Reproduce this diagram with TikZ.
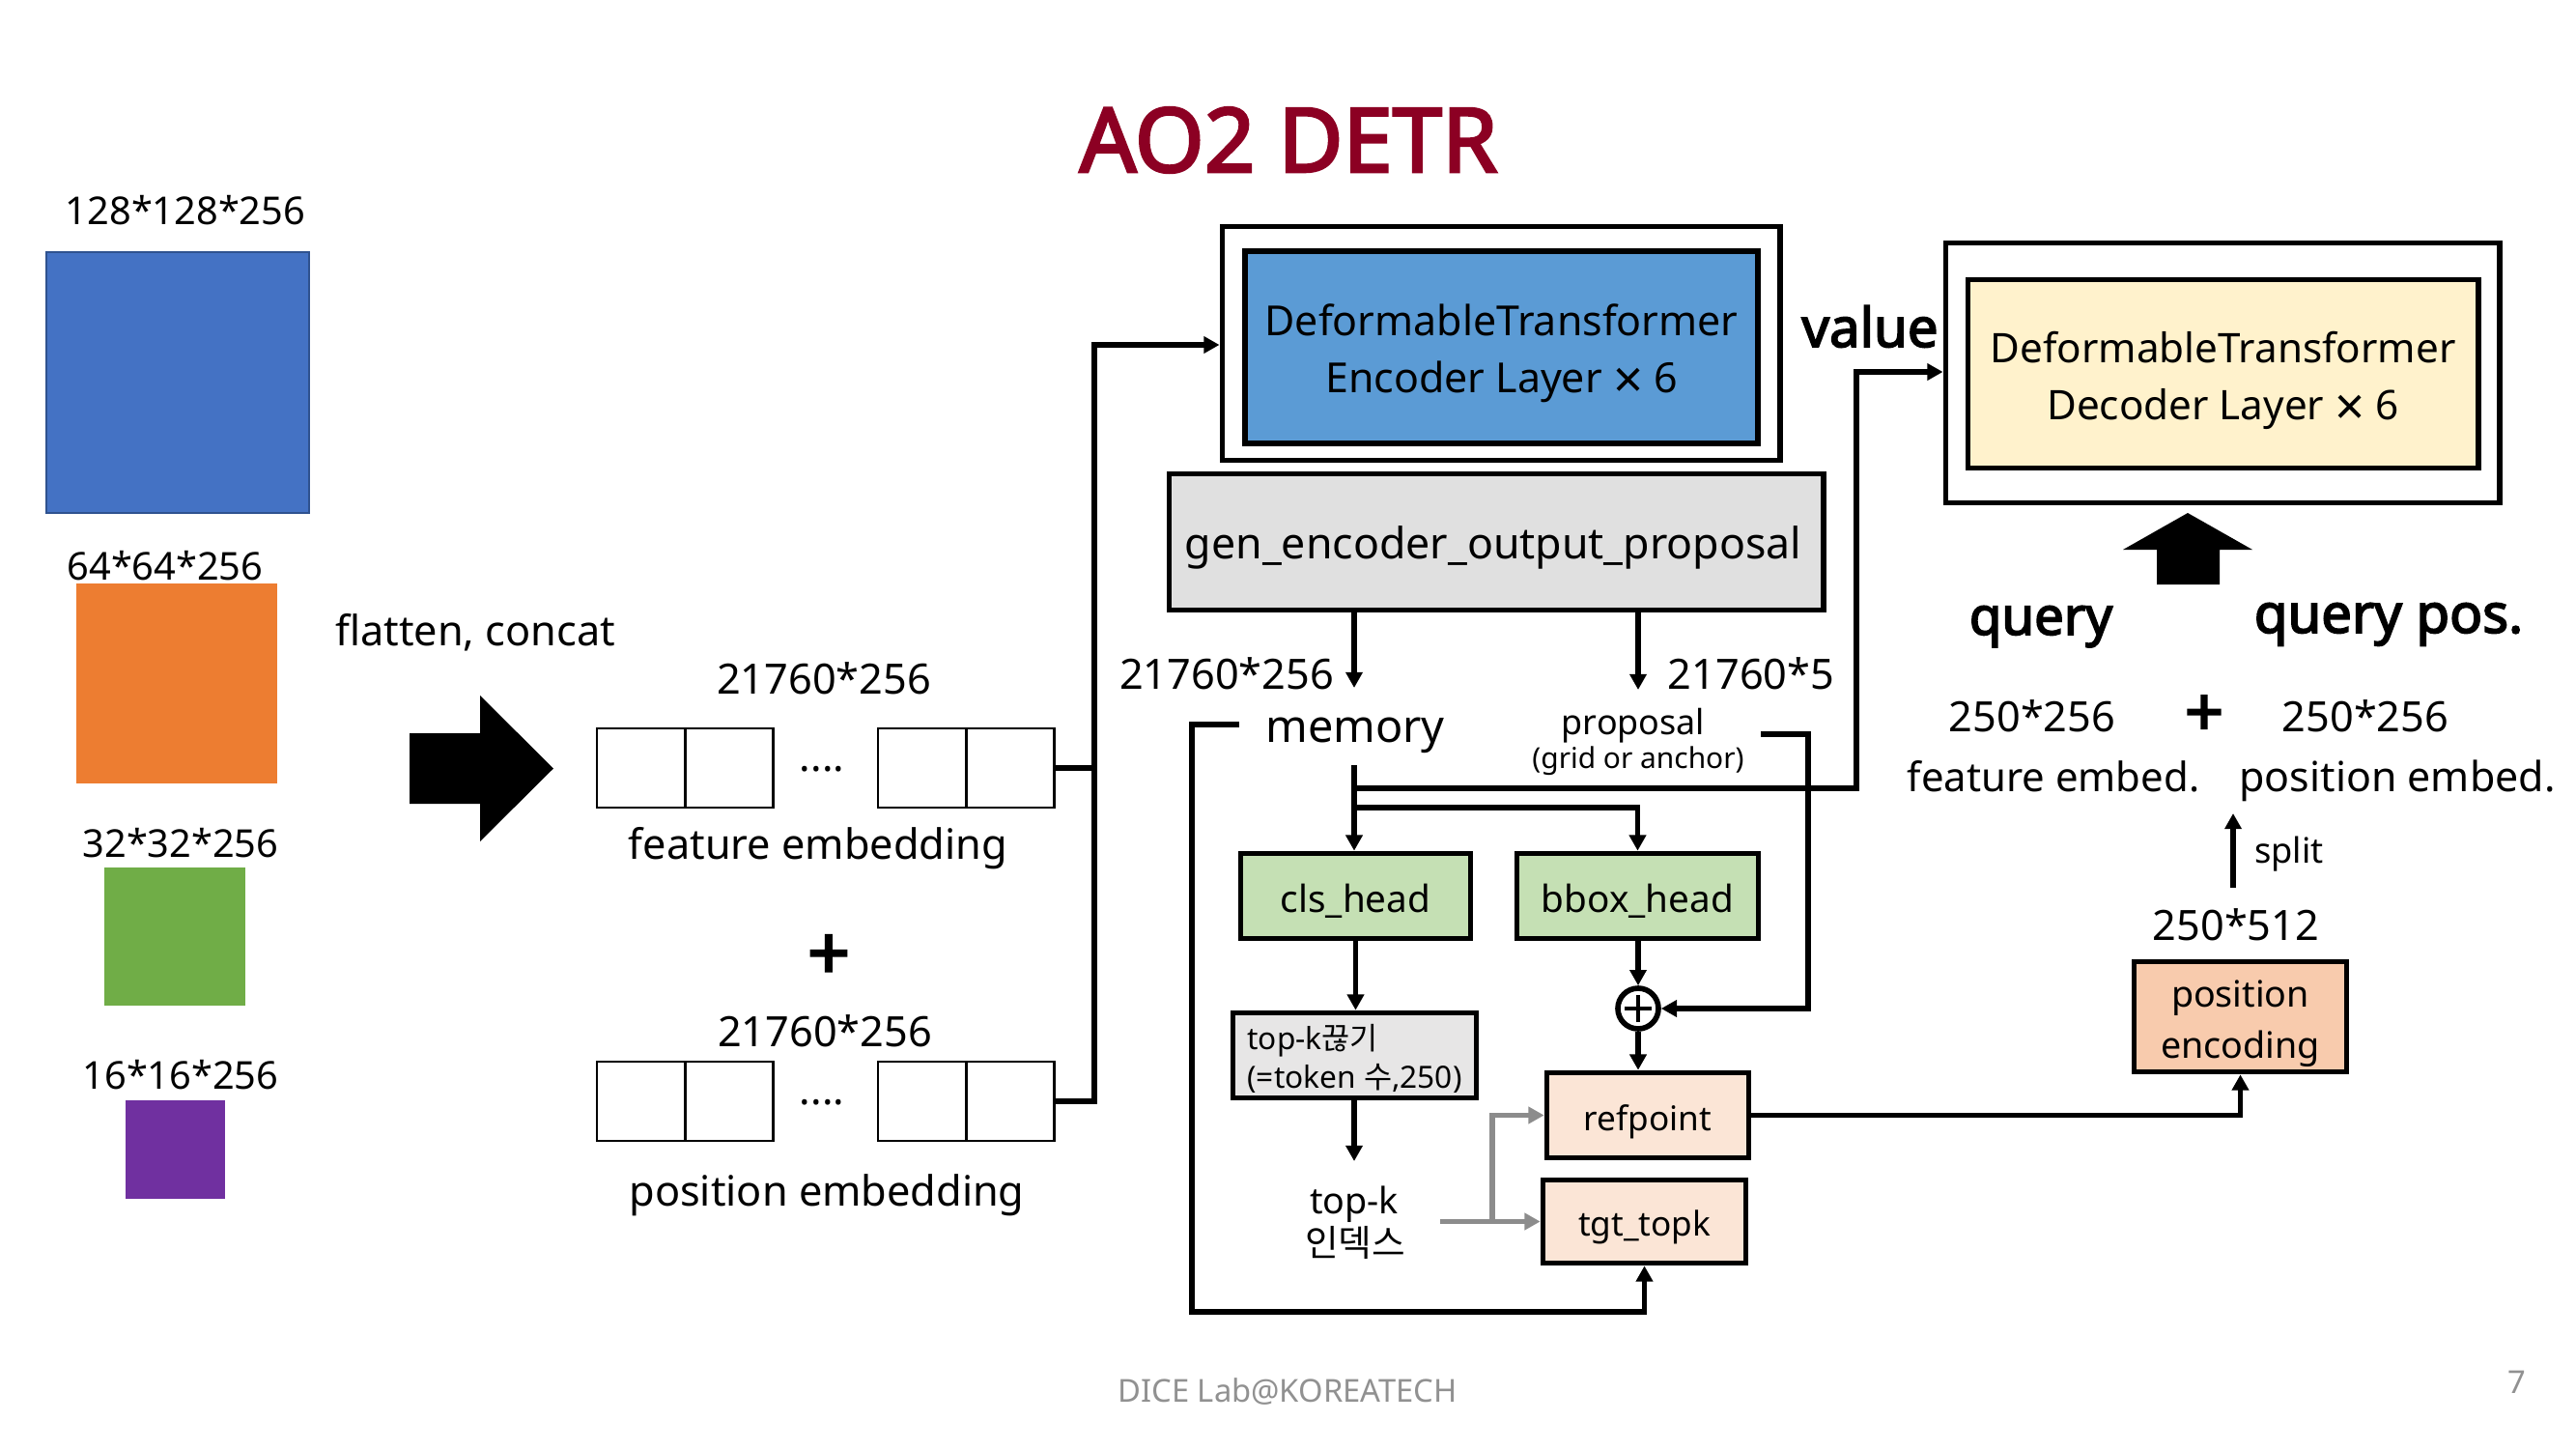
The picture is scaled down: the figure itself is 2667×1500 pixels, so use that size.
\documentclass[tikz,border=0pt]{standalone}
\usepackage{fontspec}
\setmainfont{Noto Sans}
\newfontfamily\bsans[FakeBold=3]{Noto Sans}
\newfontfamily\kr{Noto Sans CJK KR}
\usetikzlibrary{arrows.meta}

\definecolor{titlered}{RGB}{140,0,35}
\definecolor{blueA}{HTML}{4472C4}
\definecolor{blueAb}{HTML}{2F528F}
\definecolor{orangeA}{HTML}{ED7D31}
\definecolor{greenA}{HTML}{70AD47}
\definecolor{purpleA}{HTML}{7030A0}
\definecolor{encblue}{HTML}{5B9BD5}
\definecolor{genGray}{HTML}{E0E0E0}
\definecolor{headGreen}{HTML}{C5E0B4}
\definecolor{topkGray}{HTML}{E7E6E6}
\definecolor{peach}{HTML}{FBE5D6}
\definecolor{peachDark}{HTML}{F8CBAD}
\definecolor{decYellow}{HTML}{FFF2CC}
\definecolor{arrGray}{RGB}{140,140,140}
\definecolor{footGray}{RGB}{145,145,145}

\newcommand{\fsz}[2]{\fontsize{#1pt}{#2pt}\selectfont}
\newcommand{\bigtimes}{\raisebox{-1.6pt}{\fontsize{15.5pt}{16pt}\selectfont ×}}

\begin{document}
\begin{tikzpicture}[x=0.01cm,y=-0.01cm,
  txt/.style={inner sep=0pt, font=\fsz{12.3}{15}},
  box/.style={draw, line width=1.6pt, inner sep=0pt},
  cell/.style={draw, line width=0.75pt, minimum width=0.91cm, minimum height=0.82cm, inner sep=0pt},
  conn/.style={line width=1.45pt, -{Triangle[length=4.6pt,width=4.8pt]}},
  wire/.style={line width=1.45pt},
  garr/.style={line width=1.45pt, draw=arrGray, color=arrGray, -{Triangle[length=4.6pt,width=4.8pt]}}]

\fill[white] (0,0) rectangle (2667,1500);
\path[use as bounding box] (0,0) rectangle (2667,1500);

% title
\node[txt, font=\bsans\fsz{26.2}{30}, text=titlered] (title) at (1334,145) {AO2 DETR};

% left feature maps
\node[txt, font=\fsz{11.3}{14}] (l128) at (192,218) {128*128*256};
\node[draw=blueAb, fill=blueA, line width=0.6pt, minimum width=2.72cm, minimum height=2.70cm, inner sep=0pt] (s128) at (184,396) {};
\node[txt, font=\fsz{11.3}{14}] (l64) at (171,586) {64*64*256};
\node[fill=orangeA, minimum width=2.08cm, minimum height=2.07cm, inner sep=0pt] (s64) at (183,707.5) {};
\node[txt, font=\fsz{11.3}{14}] (l32) at (187,873) {32*32*256};
\node[fill=greenA, minimum width=1.46cm, minimum height=1.43cm, inner sep=0pt] (s32) at (181,969.5) {};
\node[txt, font=\fsz{11.3}{14}] (l16) at (187,1113) {16*16*256};
\node[fill=purpleA, minimum width=1.03cm, minimum height=1.02cm, inner sep=0pt] (s16) at (181.5,1190) {};

\node[txt] (flat) at (492,655) {flatten, concat};
\fill (424,759) -- (497,759) -- (497,720) -- (573,795.5) -- (497,871) -- (497,832) -- (424,832) -- cycle;

% feature embedding
\node[txt] (fdim) at (853,702) {21760*256};
\node[cell] (f1) at (663.5,795) {};
\node[cell] (f2) at (755,795) {};
\node[txt] (fdots) at (851,796) {....};
\node[cell] (f3) at (954.5,795) {};
\node[cell] (f4) at (1046,795) {};
\node[txt] (femb) at (847,878) {feature embedding};
\node[txt, font=\bsans\fsz{22}{24}] (plusA) at (858,991) {+};

% position embedding
\node[txt] (pdim) at (854,1067) {21760*256};
\node[cell] (p1) at (663.5,1140) {};
\node[cell] (p2) at (755,1140) {};
\node[txt] (pdots) at (851,1141) {....};
\node[cell] (p3) at (954.5,1140) {};
\node[cell] (p4) at (1046,1140) {};
\node[txt] (pemb) at (856,1237) {position embedding};

% encoder
\node[box, minimum width=5.77cm, minimum height=2.42cm] (enc) at (1554,355.5) {};
\node[box, fill=encblue, minimum width=5.31cm, minimum height=1.99cm, inner sep=0pt] (encin) at (1554.5,359.5) {};
\node[txt, align=center, font=\fsz{12.2}{16.8}] (enctext) at (1554.5,366) {DeformableTransformer\\Encoder Layer \bigtimes{} 6};

% decoder
\node[box, minimum width=5.73cm, minimum height=2.69cm] (dec) at (2301,386) {};
\node[box, fill=decYellow, minimum width=5.28cm, minimum height=1.95cm] (decin) at (2301.5,387) {};
\node[txt, align=center, font=\fsz{12}{16.8}] (dectext) at (2301.5,394) {DeformableTransformer\\Decoder Layer \bigtimes{} 6};
\fill (2265,531) -- (2332,569) -- (2298,569) -- (2298,605) -- (2233,605) -- (2233,569) -- (2198,569) -- cycle;

\coordinate (jA) at (1133,795);
\coordinate (jB) at (1133,1140);
\coordinate (jC) at (1133,357);
\draw[wire] (f4.east) -- (jA);
\draw[conn] (p4.east) -- (jB) -- (jC) -- (jC -| enc.west);

% gen box
\node[box, fill=genGray, minimum width=6.77cm, minimum height=1.41cm] (gen) at (1549,561) {};
\node[txt, font=\fsz{12.7}{15}] (gentext) at (1546,567) {gen\_encoder\_output\_proposal};

\coordinate (memTip) at (1402,712);
\coordinate (propTip) at (1696,714);
\draw[conn] (gen.south -| memTip) -- (memTip);
\draw[conn] (gen.south -| propTip) -- (propTip);

\node[txt] (memdim) at (1270,697) {21760*256};
\node[txt] (propdim) at (1813,697) {21760*5};
\node[txt, font=\fsz{13.3}{16}] (mem) at (1403,761) {memory};
\node[txt, font=\fsz{10.2}{12}] (prop) at (1691,751) {proposal};
\node[txt, font=\fsz{8.5}{10}] (grid) at (1696,788) {(grid or anchor)};

% heads
\node[box, fill=headGreen, minimum width=2.38cm, minimum height=0.88cm] (cls) at (1403.5,927.5) {};
\node[txt, font=\fsz{11}{13}] (clstext) at (1403.5,933) {cls\_head};
\node[box, fill=headGreen, minimum width=2.50cm, minimum height=0.88cm] (bbox) at (1695.5,927.5) {};
\node[txt, font=\fsz{11}{13}] (bboxtext) at (1695.5,933) {bbox\_head};

\node[box, fill=topkGray, minimum width=2.52cm, minimum height=0.88cm] (topk) at (1402.5,1092.5) {};
\node[txt, align=left, font=\fsz{9}{11.4}] (topktext) at (1402.5,1096) {top-k{\kr 끊기}\\(=token {\kr 수},250)};

\node[circle, draw, line width=1.6pt, fill=white, minimum size=0.42cm, inner sep=0pt] (op) at (1696,1044) {};
\draw[line width=0.9pt] ([xshift=-0.14cm]op.center) -- ([xshift=0.14cm]op.center);
\draw[line width=0.9pt] ([yshift=-0.14cm]op.center) -- ([yshift=0.14cm]op.center);

\node[box, fill=peach, minimum width=2.09cm, minimum height=0.88cm] (ref) at (1706,1154.5) {};
\node[txt, font=\fsz{10}{12}] (reftext) at (1706,1161) {refpoint};
\node[box, fill=peach, minimum width=2.10cm, minimum height=0.86cm] (tgt) at (1702.5,1264.5) {};
\node[txt, font=\fsz{10}{12}] (tgttext) at (1702.5,1270) {tgt\_topk};

\node[txt, font=\fsz{10.7}{13}] (tk1) at (1402,1247) {top-k};
\node[txt, font=\kr\fsz{10.7}{13}] (tk2) at (1403,1286) {인덱스};

% memory flows
\coordinate (mDown) at (1402,792);
\coordinate (vJ) at (1402,816);
\coordinate (bJ) at (1402,836);
\coordinate (vA) at (1922,816);
\coordinate (vB) at (1922,385);
\draw[conn] (mDown) -- (mDown |- cls.north);
\draw[conn] (vJ) -- (vA) -- (vB) -- (vB -| dec.west);
\draw[conn] (bJ) -- (bJ -| bbox.north) -- (bbox.north);

% proposal bracket
\coordinate (pA) at (1823,760);
\coordinate (pB) at (1872,760);
\coordinate (pC) at (1872,1044);
\draw[conn] (pA) -- (pB) -- (pC) -- (op.east);

% memory bracket
\coordinate (mA) at (1283,750);
\coordinate (mB) at (1234,750);
\coordinate (mC) at (1234,1358);
\draw[conn] (mA) -- (mB) -- (mC) -- (mC -| tgt.south) -- (tgt.south);

\draw[conn] (cls.south) -- (cls.south |- topk.north);
\coordinate (tkTip) at (1402,1202);
\draw[conn] (topk.south -| tkTip) -- (tkTip);

\draw[conn] (op.north |- bbox.south) -- (op.north);
\draw[conn] (op.south) -- (op.south |- ref.north);

% gray arrows
\coordinate (gA) at (1491,1264.5);
\coordinate (gJ) at (1545,1264.5);
\draw[garr] (gA) -- (tgt.west);
\draw[garr] (gJ) -- (gJ |- ref.west) -- (ref.west);

% position encoding
\node[box, fill=peachDark, minimum width=2.20cm, minimum height=1.14cm] (pos) at (2319.5,1052.5) {};
\node[txt, align=center, font=\fsz{10.7}{15}] (postext) at (2319.5,1060) {position\\encoding};
\draw[conn] (ref.east) -- (ref.east -| pos.south) -- (pos.south);
\node[txt] (d512) at (2315,957) {250*512};
\coordinate (sB) at (2312,919);
\coordinate (sT) at (2312,842);
\draw[conn] (sB) -- (sT);
\node[txt, font=\fsz{10.3}{12}] (split) at (2370,884) {split};

\node[txt, font=\bsans\fsz{16}{18}] (value) at (1936,338) {value};
\node[txt, font=\bsans\fsz{15.5}{18}, anchor=base] (query) at (2113,657) {query};
\node[txt, font=\bsans\fsz{16}{18}, anchor=base] (qpos) at (2473,655) {query pos.};
\node[txt] (qd1) at (2104,741) {250*256};
\node[txt, font=\bsans\fsz{20}{22}] (plusB) at (2282,741) {+};
\node[txt] (qd2) at (2449,741) {250*256};
\node[txt, anchor=base, font=\fsz{11.9}{14}] (fe2) at (2126,819) {feature embed.};
\node[txt, anchor=base, font=\fsz{12.2}{14}] (pe2) at (2482,819) {position embed.};

% footer
\node[txt, font=\fsz{9.3}{11}, text=footGray] (foot) at (1333,1441) {DICE Lab@KOREATECH};
\node[txt, font=\fsz{9.3}{11}, text=footGray] (pg) at (2606,1431) {7};
\end{tikzpicture}
\end{document}
